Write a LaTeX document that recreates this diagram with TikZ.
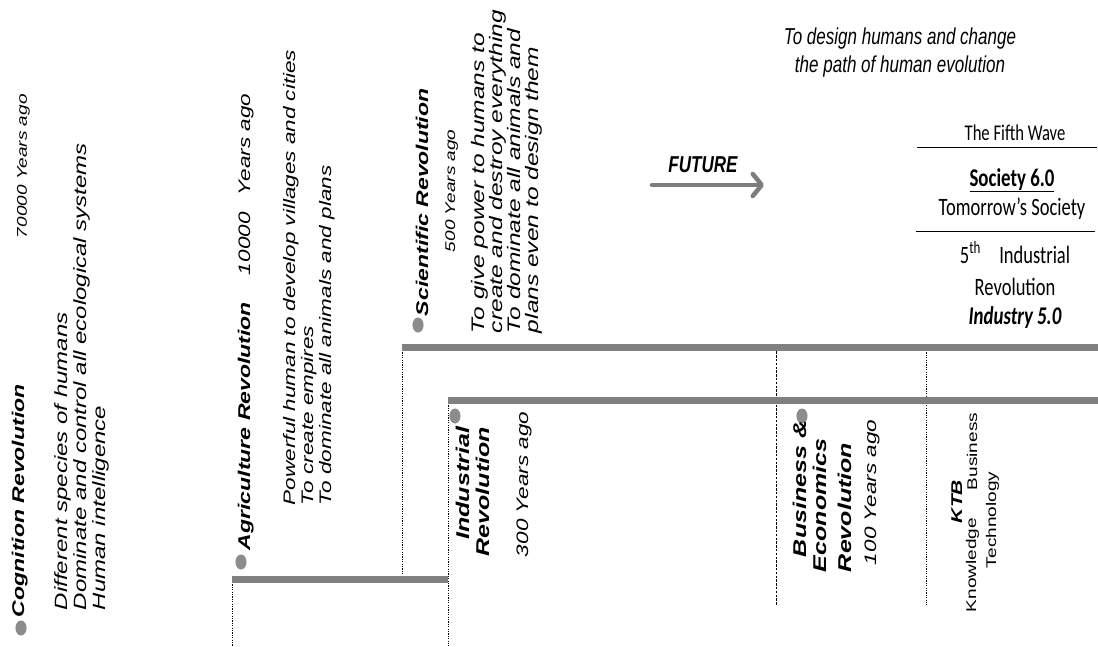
\documentclass[tikz,border=0pt]{standalone}
\usepackage{fontspec}
\setmainfont{Liberation Sans}
\newfontfamily\calfont{Carlito}
\usetikzlibrary{arrows.meta}
\definecolor{bargray}{RGB}{128,128,128}
\definecolor{dotgray}{RGB}{140,140,140}
\definecolor{arrowgray}{RGB}{125,125,125}

\begin{document}
\begin{tikzpicture}[x=1pt, y=-1pt,
  every node/.style={inner sep=0pt, outer sep=0pt},
  squeeze/.style={xscale=0.74},
  vtext/.style={squeeze, rotate=90, anchor=base west},
  head/.style={vtext, font=\fontsize{23}{26}\selectfont\bfseries\itshape},
  bighead/.style={vtext, font=\fontsize{25}{28}\selectfont\bfseries\itshape},
  body/.style={vtext, font=\fontsize{22.5}{25}\selectfont\itshape},
  bodyl/.style={vtext, font=\fontsize{24}{27}\selectfont\itshape},
  bodys/.style={vtext, font=\fontsize{19}{22}\selectfont\itshape},
  small/.style={vtext, font=\fontsize{19}{22}\selectfont},
  htext/.style={squeeze, anchor=base},
  cal/.style={htext, font=\fontsize{25}{30}\selectfont\calfont},
  dotm/.style={circle, fill=dotgray, minimum size=15pt, squeeze},
  bar/.style={line width=7pt, draw=bargray},
  guide/.style={line width=0.7pt, black, dash pattern=on 1.2pt off 1.2pt},
  dguide/.style={line width=0.7pt, black, dash pattern=on 2.4pt off 1.4pt},
  rule/.style={line width=1pt, black},
  futarrow/.style={line width=4.5pt, arrowgray, line cap=round,
    -{Straight Barb[length=9pt, width=22pt, line cap=round, line join=round]}}
]
\useasboundingbox (0,0) rectangle (1098,646);
\fill[white] (0,0) rectangle (1098,646);

% ---------- timeline bars and guide lines ----------
\coordinate (agrL) at (232,579.5);  \coordinate (agrR) at (448,579.5);
\coordinate (sciL) at (402,347.5);  \coordinate (sciR) at (1098,347.5);
\coordinate (indL) at (448,400.5);  \coordinate (indR) at (1098,400.5);
\coordinate (agrB) at (232,646);
\coordinate (indB) at (448,646);
\coordinate (sciB) at (402,576);
\coordinate (busT) at (776,347.5);  \coordinate (busB) at (776,605);
\coordinate (ktbT) at (926,347.5);  \coordinate (ktbB) at (926,605);

\draw[guide] (agrL) -- (agrB);
\draw[guide] (indL) -- (indB);
\draw[guide] (sciL) -- (sciB);
\draw[dguide] (busT) -- (busB);
\draw[guide] (ktbT) -- (ktbB);

\draw[bar] (agrL) -- (agrR);
\draw[bar] (sciL) -- (sciR);
\draw[bar] (indL) -- (indR);

% ---------- Cognition Revolution ----------
\node[dotm] (cogdot) at (21,628) {};
\node[head] (coghead) at (24,617) {Cognition Revolution};
\node[bodys] (cogage) at (27,238) {70000 Years ago};
\node[bodyl] (cog1) at (67,610) {Different species of humans};
\node[bodyl] (cog2) at (86,610) {Dominate and control all ecological systems};
\node[bodyl] (cog3) at (105,610) {Human intelligence};

% ---------- Agriculture Revolution ----------
\node[dotm] (agrdot) at (241,562) {};
\node[head] (agrhead) at (250,550) {Agriculture Revolution};
\node[body] (agryear) at (250,275) {10000};
\node[body] (agrago) at (250,195) {Years ago};
\node[body] (agr1) at (295,505) {Powerful human to develop villages and cities};
\node[body] (agr2) at (313,505) {To create empires};
\node[body] (agr3) at (331,505) {To dominate all animals and plans};

% ---------- Scientific Revolution ----------
\node[dotm] (scidot) at (418,325) {};
\node[head] (scihead) at (428,316) {Scientific Revolution};
\node[bodys] (sciage) at (455,252) {500 Years ago};
\node[vtext, font=\fontsize{24.5}{27}\selectfont\itshape] (sci1) at (484,333) {To give power to humans to};
\node[vtext, font=\fontsize{24.5}{27}\selectfont\itshape] (sci2) at (502,333) {create and destroy everything};
\node[vtext, font=\fontsize{24.5}{27}\selectfont\itshape] (sci3) at (520,333) {To dominate all animals and};
\node[vtext, font=\fontsize{24.5}{27}\selectfont\itshape] (sci4) at (538,333) {plans even to design them};

% ---------- Industrial Revolution ----------
\node[dotm] (inddot) at (455,416) {};
\node[bighead, anchor=base east] (indhead1) at (469,427) {Industrial};
\node[bighead, anchor=base east] (indhead2) at (489,427) {Revolution};
\node[body] (indage) at (528,557) {300 Years ago};

% ---------- Business & Economics Revolution ----------
\node[dotm] (busdot) at (802,416) {};
\node[bighead] (bushead1) at (806,557) {Business \&};
\node[bighead] (bushead2) at (826,572) {Economics};
\node[bighead] (bushead3) at (851,572) {Revolution};
\node[body] (busage) at (876,565) {100 Years ago};

% ---------- KTB ----------
\node[vtext, font=\fontsize{21}{24}\selectfont\bfseries\itshape] (ktb) at (962,523) {KTB};
\node[small] (ktbk) at (976,612) {Knowledge};
\node[small] (ktbb) at (977,490) {Business};
\node[small] (ktbt) at (996,568) {Technology};

% ---------- future ----------
\node[htext, font=\fontsize{23}{28}\selectfont\itshape] (goal1) at (900,44) {To design humans and change};
\node[htext, font=\fontsize{23}{28}\selectfont\itshape] (goal2) at (900,72) {the path of human evolution};
\node[htext, font=\fontsize{23}{28}\selectfont\bfseries\itshape] (future) at (703,172) {FUTURE};
\coordinate (futA) at (652,185);
\coordinate (futB) at (764,185);
\draw[futarrow] (futA) -- (futB);

% ---------- fifth wave ----------
\node[cal, font=\fontsize{22.5}{27}\selectfont\calfont] (wave) at (1015,140) {The Fifth Wave};
\coordinate (r1L) at (917,147); \coordinate (r1R) at (1097,147);
\draw[rule] (r1L) -- (r1R);
\node[cal, font=\fontsize{25.5}{30}\selectfont\calfont\bfseries] (soc) at (1012,186) {\underline{Society 6.0}};
\node[cal] (tomorrow) at (1012,215) {Tomorrow’s Society};
\coordinate (r2L) at (916,231); \coordinate (r2R) at (1095,231);
\draw[rule] (r2L) -- (r2R);
\node[cal] (fifth) at (1015,263) {5\textsuperscript{th}\quad Industrial};
\node[cal] (revo) at (1015,295) {Revolution};
\node[cal, font=\fontsize{25.5}{30}\selectfont\calfont\bfseries\itshape] (ind50) at (1015,324) {Industry 5.0};
\end{tikzpicture}
\end{document}
